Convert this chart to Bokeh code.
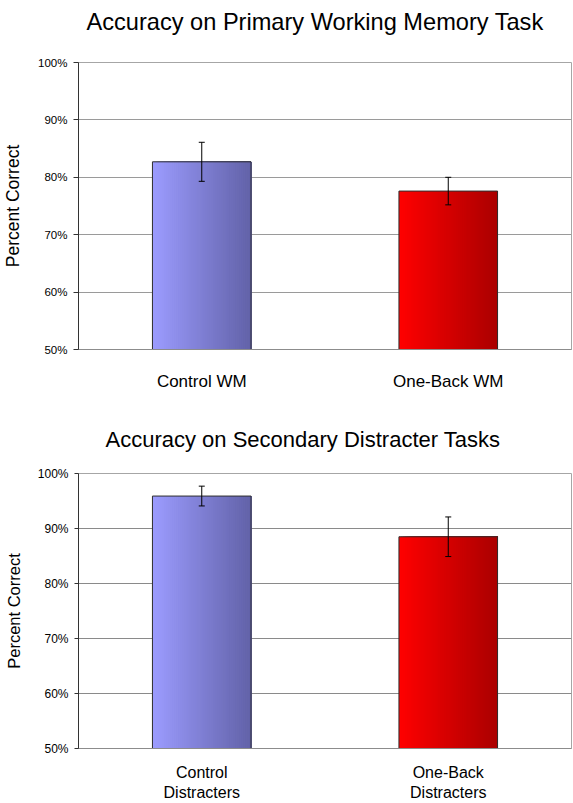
from bokeh.embed import file_html
from bokeh.layouts import column
from bokeh.models import (ColumnDataSource, FactorRange, FixedTicker,
                          NumeralTickFormatter, Range1d, TeeHead, Whisker)
from bokeh.plotting import figure
from bokeh.resources import INLINE

FONT = "Liberation Sans"

# Primary working-memory task: mean accuracy and error-bar half widths
wm_conditions = ["Control WM", "One-Back WM"]
wm_accuracy = [0.827, 0.776]
wm_error = [0.034, 0.024]

# Secondary distracter tasks
dist_conditions = ["Control\nDistracters", "One-Back\nDistracters"]
dist_accuracy = [0.959, 0.885]
dist_error = [0.018, 0.036]

y_ticks = [0.5, 0.6, 0.7, 0.8, 0.9, 1.0]

# horizontal gradient for each bar: (left edge colour, right edge colour)
bar_gradients = [((156, 156, 255), (98, 98, 168)),
                 ((255, 0, 0), (170, 0, 0))]

BAR_WIDTH = 0.4
STRIPS = 50


def mix(c0, c1, t):
    r, g, b = (round(a + (b_ - a) * t) for a, b_ in zip(c0, c1))
    return f"#{r:02x}{g:02x}{b:02x}"


def make_chart(title, conds, acc, err, *, height, left, top, bottom,
               title_size, title_offset, title_gap,
               ylab_size, ylab_standoff,
               tick_size, tick_out, tick_standoff, cat_size, cat_standoff,
               grid_color):
    p = figure(width=573, height=height,
               x_range=FactorRange(*conds), y_range=Range1d(0.5, 1.0),
               output_backend="svg", toolbar_location=None,
               min_border_left=left, min_border_right=2,
               min_border_top=top, min_border_bottom=bottom)
    p.background_fill_color = "white"
    p.border_fill_color = "white"
    p.outline_line_color = "#a6a6a6"

    p.title.text = title
    p.title.align = "left"
    p.title.vertical_align = "top"
    p.title.offset = title_offset
    p.title.standoff = 0
    p.title.padding = dict(left=0, right=0, top=0, bottom=title_gap)
    p.title.text_font = FONT
    p.title.text_font_size = title_size
    p.title.text_font_style = "normal"
    p.title.text_color = "black"

    ticker = FixedTicker(ticks=y_ticks)
    p.yaxis.ticker = ticker
    p.ygrid.ticker = ticker
    p.yaxis.formatter = NumeralTickFormatter(format="0%")
    p.yaxis.major_label_text_font = FONT
    p.yaxis.major_label_text_font_size = tick_size
    p.yaxis.major_label_text_color = "black"
    p.yaxis.major_tick_out = tick_out
    p.yaxis.major_tick_in = 0
    p.yaxis.minor_tick_line_color = None
    p.yaxis.major_label_standoff = tick_standoff
    p.yaxis.axis_line_color = "#333333"
    p.yaxis.major_tick_line_color = "#333333"
    p.yaxis.axis_label = "Percent Correct"
    p.yaxis.axis_label_text_font = FONT
    p.yaxis.axis_label_text_font_size = ylab_size
    p.yaxis.axis_label_text_font_style = "normal"
    p.yaxis.axis_label_text_color = "black"
    p.yaxis.axis_label_standoff = ylab_standoff

    p.xaxis.major_tick_in = 0
    p.xaxis.major_tick_out = 0
    p.xaxis.axis_line_color = "#8c8c8c"
    p.xaxis.major_label_text_font = FONT
    p.xaxis.major_label_text_font_size = cat_size
    p.xaxis.major_label_text_color = "black"
    p.xaxis.major_label_standoff = cat_standoff

    p.xgrid.grid_line_color = None
    p.ygrid.grid_line_color = grid_color

    # gradient-filled bars: each strip runs from its start to the bar's right
    # edge and is drawn over the previous one, so no seams show between them
    strips = dict(left=[], right=[], top=[], color=[])
    for cond, a, (c0, c1) in zip(conds, acc, bar_gradients):
        for i in range(STRIPS):
            x0 = -BAR_WIDTH / 2 + BAR_WIDTH * i / STRIPS
            strips["left"].append((cond, x0))
            strips["right"].append((cond, BAR_WIDTH / 2))
            strips["top"].append(a)
            strips["color"].append(mix(c0, c1, (i + 0.5) / STRIPS))
    p.quad(left="left", right="right", bottom=0.5, top="top",
           fill_color="color", line_color=None,
           source=ColumnDataSource(strips))
    p.vbar(x=conds, top=acc, bottom=0.5, width=BAR_WIDTH,
           fill_color=None, line_color="#2e2e2e", line_width=1)

    # error bars
    err_src = ColumnDataSource(dict(x=conds,
                                    upper=[a + e for a, e in zip(acc, err)],
                                    lower=[a - e for a, e in zip(acc, err)]))
    p.add_layout(Whisker(base="x", upper="upper", lower="lower", source=err_src,
                         level="overlay", line_color="black", line_width=1,
                         upper_head=TeeHead(size=6, line_color="black", line_width=1),
                         lower_head=TeeHead(size=6, line_color="black", line_width=1)))
    return p


top_chart = make_chart("Accuracy on Primary Working Memory Task",
                       wm_conditions, wm_accuracy, wm_error,
                       height=405, left=73, top=62, bottom=56,
                       title_size="23.6px", title_offset=8, title_gap=26,
                       ylab_size="17.5px", ylab_standoff=12,
                       tick_size="11.5px", tick_out=5, tick_standoff=6,
                       cat_size="17px", cat_standoff=22, grid_color="#9a9a9a")

bottom_chart = make_chart("Accuracy on Secondary Distracter Tasks",
                          dist_conditions, dist_accuracy, dist_error,
                          height=398, left=78, top=68, bottom=54,
                          title_size="22px", title_offset=27, title_gap=20,
                          ylab_size="16.5px", ylab_standoff=12,
                          tick_size="12px", tick_out=4, tick_standoff=6,
                          cat_size="16px", cat_standoff=15, grid_color="#8a8a8a")

layout = column(top_chart, bottom_chart, spacing=0)

with open("out.html", "w") as f:
    f.write(file_html(layout, INLINE))
